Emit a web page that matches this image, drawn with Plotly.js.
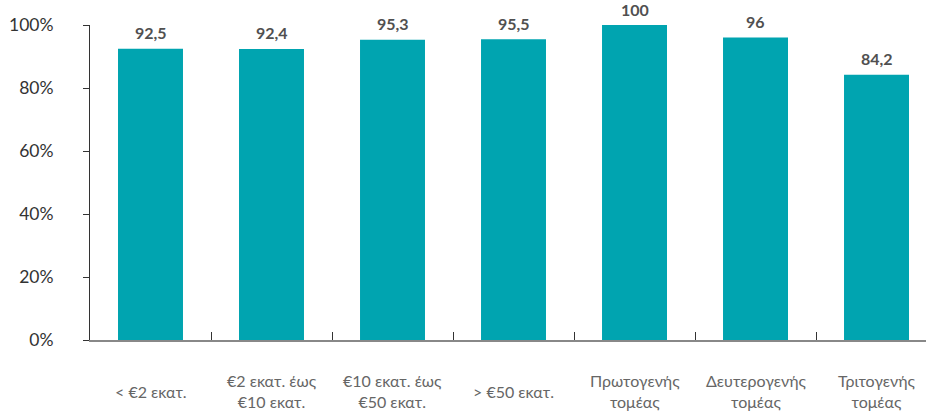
<!DOCTYPE html>
<html>
<head>
<meta charset="utf-8">
<script src="https://cdn.plot.ly/plotly-3.0.1.min.js"></script>
<style>html,body{margin:0;padding:0;background:#fff;}#chart{width:926px;height:412px;}</style>
</head>
<body>
<div id="chart"></div>
<script>
const categories = ["< €2 εκατ.", "€2 εκατ. έως<br>€10 εκατ.", "€10 εκατ. έως<br>€50 εκατ.", "> €50 εκατ.", "Πρωτογενής<br>τομέας", "Δευτερογενής<br>τομέας", "Τριτογενής<br>τομέας"];
const values = [92.5, 92.4, 95.3, 95.5, 100, 96, 84.2];
const yTicks = [0, 20, 40, 60, 80, 100];
const yTickLabels = ["0%", "20%", "40%", "60%", "80%", "100%"];

const font = "Lato, 'Noto Sans', 'DejaVu Sans', sans-serif";

const trace = {
  type: "bar",
  x: categories,
  y: values,
  marker: {color: "#00A4B0"},
  hoverinfo: "none"
};

const valueLabels = values.map((v, i) => ({
  x: categories[i], y: v, xref: "x", yref: "y",
  text: String(v).replace(".", ","),
  showarrow: false, yanchor: "middle", yshift: 16,
  font: {family: font, size: 16, color: "#505050", weight: 700}
}));

const catLabels = categories.map((c) => ({
  x: c, y: 0, xref: "x", yref: "paper",
  text: c, showarrow: false, yanchor: "middle", yshift: -51,
  font: {family: font, size: 16, color: "#666"}
}));

const layout = {
  width: 926, height: 412,
  margin: {l: 90, r: 0, t: 25, b: 72},
  paper_bgcolor: "#fff", plot_bgcolor: "#fff",
  showlegend: false,
  bargap: 0.463,
  separators: ",.",
  xaxis: {
    type: "category",
    range: [-0.5, 6.409],
    tickson: "boundaries",
    ticks: "inside", ticklen: 8, tickcolor: "#333", tickwidth: 1,
    showline: true, linecolor: "#888", linewidth: 1.5,
    showgrid: false, zeroline: false,
    showticklabels: false,
    fixedrange: true
  },
  yaxis: {
    range: [0, 100],
    tickvals: yTicks, ticktext: yTickLabels,
    ticks: "outside", ticklen: 6, tickcolor: "#333",
    showline: true, linecolor: "#333", linewidth: 1,
    showgrid: false, zeroline: false,
    tickfont: {family: font, size: 17.5, color: "#333"},
    ticklabelstandoff: 26,
    fixedrange: true
  },
  annotations: valueLabels.concat(catLabels)
};

Plotly.newPlot("chart", [trace], layout, {displayModeBar: false, staticPlot: true});
</script>
</body>
</html>
